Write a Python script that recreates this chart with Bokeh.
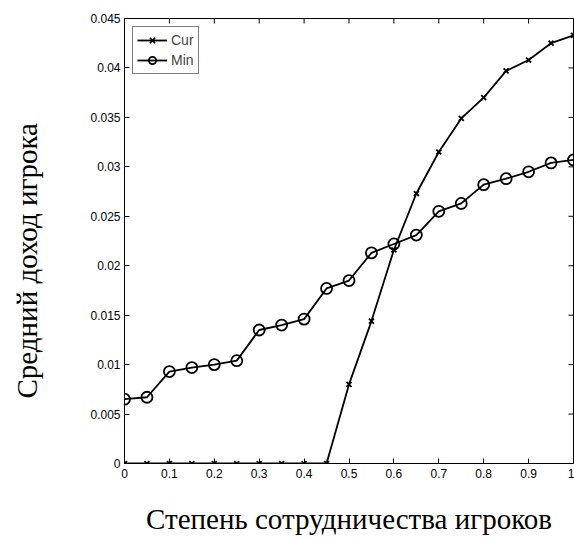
import math
from bokeh.plotting import figure
from bokeh.models import Range1d, FixedTicker, Legend, LegendItem, Title
from bokeh.embed import file_html
from bokeh.resources import INLINE

x_vals = [0, 0.05, 0.1, 0.15, 0.2, 0.25, 0.3, 0.35, 0.4, 0.45, 0.5,
          0.55, 0.6, 0.65, 0.7, 0.75, 0.8, 0.85, 0.9, 0.95, 1.0]
cur_vals = [0, 0, 0, 0, 0, 0, 0, 0, 0, 0, 0.0080,
            0.0144, 0.0216, 0.0273, 0.0315, 0.0349, 0.0370, 0.0397, 0.0408, 0.0425, 0.0433]
min_vals = [0.0065, 0.0067, 0.0093, 0.0097, 0.0100, 0.0104, 0.0135, 0.0140, 0.0146, 0.0177, 0.0185,
            0.0213, 0.0222, 0.0231, 0.0255, 0.0263, 0.0282, 0.0288, 0.0295, 0.0304, 0.0307]
x_ticks = [0, 0.1, 0.2, 0.3, 0.4, 0.5, 0.6, 0.7, 0.8, 0.9, 1.0]
x_tick_labels = ["0", "0.1", "0.2", "0.3", "0.4", "0.5", "0.6", "0.7", "0.8", "0.9", "1"]
y_ticks = [0, 0.005, 0.01, 0.015, 0.02, 0.025, 0.03, 0.035, 0.04, 0.045]
y_tick_labels = ["0", "0.005", "0.01", "0.015", "0.02", "0.025", "0.03", "0.035", "0.04", "0.045"]
series_names = ["Cur", "Min"]
x_label = "Степень сотрудничества игроков"
y_label = "Средний доход игрока"

W, H = 574, 538
p = figure(width=W, height=H, output_backend="svg", toolbar_location=None,
           x_range=Range1d(x_ticks[0], x_ticks[-1]), y_range=Range1d(y_ticks[0], y_ticks[-1]),
           min_border_left=124, min_border_right=1, min_border_top=18, min_border_bottom=75)
p.background_fill_color = "white"
p.border_fill_color = "white"
p.outline_line_color = "black"
p.outline_line_width = 1
p.xgrid.visible = False
p.ygrid.visible = False

tick_font = "Liberation Sans"
label_font = "Liberation Serif"

for ax in p.xaxis:
    ax.ticker = FixedTicker(ticks=x_ticks)
    ax.major_label_overrides = {t: l for t, l in zip(x_ticks, x_tick_labels)}
for ax in p.yaxis:
    ax.ticker = FixedTicker(ticks=y_ticks)
    ax.major_label_overrides = {t: l for t, l in zip(y_ticks, y_tick_labels)}

for ax in list(p.xaxis) + list(p.yaxis):
    ax.major_tick_in = 5
    ax.major_tick_out = 0
    ax.minor_tick_line_color = None
    ax.axis_line_color = "black"
    ax.major_tick_line_color = "black"
    ax.major_label_text_font = tick_font
    ax.major_label_text_font_size = "12px"
    ax.major_label_text_color = "black"
p.xaxis.major_label_standoff = 5
p.yaxis.major_label_standoff = 4

# x axis title
p.xaxis.axis_label = x_label
p.xaxis.axis_label_text_font = label_font
p.xaxis.axis_label_text_font_size = "29px"
p.xaxis.axis_label_text_font_style = "normal"
p.xaxis.axis_label_text_color = "black"
p.xaxis.axis_label_standoff = 22

# y axis title as a side title (allows shifting along the axis)
p.yaxis.axis_label = " "
p.yaxis.axis_label_text_font_size = "1px"
p.yaxis.axis_label_standoff = 41
ytitle = Title(text=y_label, align="left", offset=65, vertical_align="bottom", standoff=0,
               text_font=label_font, text_font_size="29px", text_font_style="normal",
               text_color="black")
p.add_layout(ytitle, "left")

# inward box ticks on the top and right edges (half of each dash is clipped by the frame)
p.scatter(x=x_ticks, y=[y_ticks[-1]] * len(x_ticks), marker="dash", angle=math.pi / 2,
          size=10, line_color="black", line_width=1)
p.scatter(x=[x_ticks[-1]] * len(y_ticks), y=y_ticks, marker="dash",
          size=10, line_color="black", line_width=1)

r_cur_l = p.line(x_vals, cur_vals, line_color="black", line_width=1.8)
r_cur_m = p.scatter(x_vals, cur_vals, marker="x", size=7, line_color="black", line_width=1.8)
r_min_l = p.line(x_vals, min_vals, line_color="black", line_width=1.8)
r_min_m = p.scatter(x_vals, min_vals, marker="circle", size=11, line_color="black",
                    fill_color=None, line_width=1.8)

legend = Legend(items=[LegendItem(label=series_names[0], renderers=[r_cur_l, r_cur_m]),
                       LegendItem(label=series_names[1], renderers=[r_min_l, r_min_m])],
                location="top_left")
legend.border_line_color = "black"
legend.border_line_width = 1
legend.background_fill_color = "white"
legend.background_fill_alpha = 1
legend.label_text_font = tick_font
legend.label_text_font_size = "14px"
legend.glyph_width = 30
legend.glyph_height = 18
legend.label_height = 18
legend.label_standoff = 4
legend.padding = 4
legend.spacing = 2
legend.margin = 8
p.add_layout(legend, "center")

open("out.html", "w").write(file_html(p, INLINE))
